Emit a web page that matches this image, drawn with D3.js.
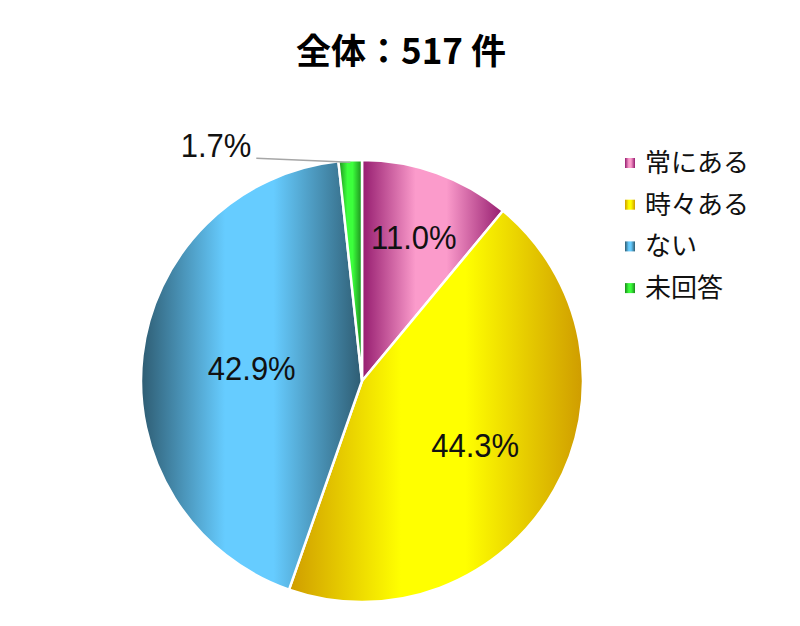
<!DOCTYPE html>
<html>
<head>
<meta charset="utf-8">
<script src="https://cdn.jsdelivr.net/npm/d3@7"></script>
<style>
  body { margin: 0; background: #fff; }
  svg { display: block; }
</style>
</head>
<body>
<svg id="chart"></svg>
<script>
const categories = ['常にある', '時々ある', 'ない', '未回答'];
const values = [11.0, 44.3, 42.9, 1.7];
const lightColors = ['#fb9bcb', '#ffff00', '#66ccff', '#3cff3c'];
const darkColors = ['#951c6f', '#cf9c00', '#2e5c72', '#1c8a1c'];
const title = '全体：517 件';

const w = 800, h = 626;
const cx = 362, cy = 381, radius = 221;

const svg = d3.select('#chart').attr('width', w).attr('height', h);
const defs = svg.append('defs');

// cylinder-like horizontal gradient per slice
categories.forEach((c, i) => {
  const g = defs.append('linearGradient')
    .attr('id', 'grad' + i)
    .attr('x1', '0%').attr('x2', '100%').attr('y1', '0%').attr('y2', '0%');
  [[0, darkColors[i]], [0.38, lightColors[i]], [0.6, lightColors[i]], [1, darkColors[i]]]
    .forEach(s => g.append('stop').attr('offset', s[0]).attr('stop-color', s[1]));
});

svg.append('text')
  .attr('x', 401).attr('y', 64)
  .attr('text-anchor', 'middle')
  .style('font-family', '"Noto Sans CJK JP", sans-serif')
  .style('font-weight', 'bold')
  .style('font-size', '35px')
  .text(title);

const pie = d3.pie().sort(null).value(d => d);
const arcs = pie(values);
const arcGen = d3.arc().innerRadius(0).outerRadius(radius);

const g = svg.append('g').attr('transform', `translate(${cx},${cy})`);

g.selectAll('path')
  .data(arcs)
  .join('path')
  .attr('d', arcGen)
  .attr('fill', (d, i) => `url(#grad${i})`)
  .attr('stroke', '#fff')
  .attr('stroke-width', 2.5)
  .attr('stroke-linejoin', 'round');

// label distance from centre, narrow slices sit further out
const labelR = [153, 130, 111];
const fmt = d => d.toFixed(1) + '%';

g.selectAll('text.inside')
  .data(arcs.slice(0, 3))
  .join('text')
  .attr('class', 'inside')
  .attr('transform', (d, i) => {
    const a = (d.startAngle + d.endAngle) / 2;
    return `translate(${Math.sin(a) * labelR[i]},${-Math.cos(a) * labelR[i] + 12}) scale(1,1.08)`;
  })
  .attr('text-anchor', 'middle')
  .style('font-family', '"Liberation Sans", Arial, sans-serif')
  .style('font-size', '31px')
  .style('fill', '#111')
  .text(d => fmt(d.value));

// small slice: outside label with leader line
const last = arcs[3];
const am = (last.startAngle + last.endAngle) / 2;
const px = Math.sin(am) * (radius - 2), py = -Math.cos(am) * (radius - 2);
g.append('polyline')
  .attr('points', `${px},${py} ${px - 94},${py - 4}`)
  .attr('fill', 'none')
  .attr('stroke', '#a6a6a6')
  .attr('stroke-width', 1.5);
g.append('text')
  .attr('transform', `translate(${px - 99},${py - 5}) scale(1,1.08)`)
  .attr('text-anchor', 'end')
  .style('font-family', '"Liberation Sans", Arial, sans-serif')
  .style('font-size', '31px')
  .style('fill', '#111')
  .text(fmt(last.value));

const legend = svg.append('g').attr('transform', 'translate(625,163)');
const rows = legend.selectAll('g')
  .data(categories)
  .join('g')
  .attr('transform', (d, i) => `translate(0,${i * 41.7})`);
rows.append('rect')
  .attr('x', 0).attr('y', -5).attr('width', 10).attr('height', 10)
  .attr('fill', (d, i) => `url(#grad${i})`);
rows.append('text')
  .attr('x', 20).attr('y', 9)
  .style('font-family', '"Noto Sans CJK JP", sans-serif')
  .style('font-size', '26px')
  .style('fill', '#111')
  .text(d => d);
</script>
</body>
</html>
